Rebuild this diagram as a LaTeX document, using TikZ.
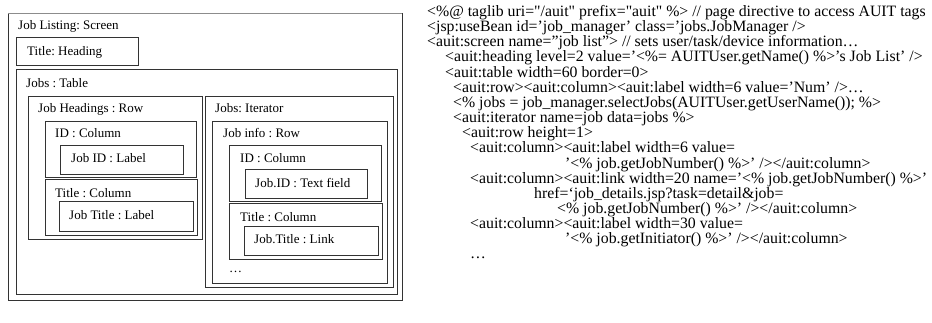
\documentclass[tikz,border=0pt]{standalone}
\usepackage{fontspec}
\setmainfont{Liberation Serif}
\frenchspacing
\begin{document}
\begin{tikzpicture}[x=1pt,y=-1pt,
  uibox/.style={draw=black!80, line width=0.7pt},
  lbl/.style={anchor=base west, inner sep=0pt, font=\fontsize{13}{15}\selectfont},
  code/.style={anchor=base west, inner sep=0pt, font=\fontsize{15.8}{15.2}\selectfont}]
\useasboundingbox (0,0) rectangle (932,322);

% --- user interface model: nested containers ---
% outer screen frame, lighter along its top edge
\draw[uibox] (8,13) -- (8,300) -- (402,300) -- (402,13);
\draw[uibox, draw=black!45] (8,13) -- (402,13);
\node[lbl] (screen) at (18,29) {Job Listing: Screen};
\draw[uibox] (16,37) rectangle (138,65);
\node[lbl] (heading) at (27,55) {Title: Heading};
\draw[uibox] (16,69) rectangle (397,294);
\node[lbl] (table) at (26,87) {Jobs : Table};

% header row
\draw[uibox] (28,96) rectangle (202,239);
\node[lbl] (hrow) at (38,112) {Job Headings : Row};
\draw[uibox] (45,121) rectangle (196,177);
\node[lbl] (hidcol) at (55,137) {ID : Column};
\draw[uibox] (60,145) rectangle (183,174);
\node[lbl] (hidlbl) at (71,162) {Job ID : Label};
\draw[uibox] (45,179) rectangle (197,235);
\node[lbl] (htitcol) at (55,197) {Title : Column};
\draw[uibox] (59,201) rectangle (193,231);
\node[lbl] (htitlbl) at (69,219) {Job Title : Label};

% iterated rows
\draw[uibox] (205,96) rectangle (393,287);
\node[lbl] (iter) at (215,112) {Jobs: Iterator};
\draw[uibox] (212,121) rectangle (387,283);
\node[lbl] (irow) at (223,137) {Job info : Row};
\draw[uibox] (229,145) rectangle (381,201);
\node[lbl] (iidcol) at (240,162) {ID : Column};
\draw[uibox] (245,169) rectangle (367,198);
\node[lbl] (iidfld) at (255,187) {Job.ID : Text field};
\draw[uibox] (229,203) rectangle (382,259);
\node[lbl] (ititcol) at (240,221) {Title : Column};
\draw[uibox] (244,226) rectangle (378,255);
\node[lbl] (ititlnk) at (254,243) {Job.Title : Link};
\node[lbl] (imore) at (229,272) {…};

% --- JSP source ---
\def\ls{15.15}
\node[code] (c1)  at (427,16.5)          {<\%@ taglib uri=\textquotedbl/auit\textquotedbl{} prefix=\textquotedbl auit\textquotedbl{} \%> // page directive to access AUIT tags};
\node[code] (c2)  at (427,16.5+1*\ls)    {<jsp:useBean id=’job\_manager’ class=’jobs.JobManager />};
\node[code] (c3)  at (427,16.5+2*\ls)    {<auit:screen name=”job list”> // sets user/task/device information…};
\node[code] (c4)  at (445,16.5+3*\ls)    {<auit:heading level=2 value=’<\%= AUITUser.getName() \%>’s Job List’ />};
\node[code] (c5)  at (445,16.5+4*\ls)    {<auit:table width=60 border=0>};
\node[code] (c6)  at (453,16.5+5*\ls)    {<auit:row><auit:column><auit:label width=6 value=’Num’ />…};
\node[code] (c7)  at (453,16.5+6*\ls)    {<\% jobs = job\_manager.selectJobs(AUITUser.getUserName()); \%>};
\node[code] (c8)  at (453,16.5+7*\ls)    {<auit:iterator name=job data=jobs \%>};
\node[code] (c9)  at (462,16.5+8*\ls)    {<auit:row height=1>};
\node[code] (c10) at (470,16.5+9*\ls)    {<auit:column><auit:label width=6 value=};
\node[code] (c11) at (565,16.5+10*\ls)   {’<\% job.getJobNumber() \%>’ /></auit:column>};
\node[code] (c12) at (470,16.5+11*\ls)   {<auit:column><auit:link width=20 name=’<\% job.getJobNumber() \%>’};
\node[code] (c13) at (534,16.5+12*\ls)   {href=‘job\_details.jsp?task=detail\&job=};
\node[code] (c14) at (557,16.5+13*\ls)   {<\% job.getJobNumber() \%>’ /></auit:column>};
\node[code] (c15) at (470,16.5+14*\ls)   {<auit:column><auit:label width=30 value=};
\node[code] (c16) at (565,16.5+15*\ls)   {’<\% job.getInitiator() \%>’ /></auit:column>};
\node[code] (c17) at (470,16.5+16*\ls)   {…};
\end{tikzpicture}
\end{document}
